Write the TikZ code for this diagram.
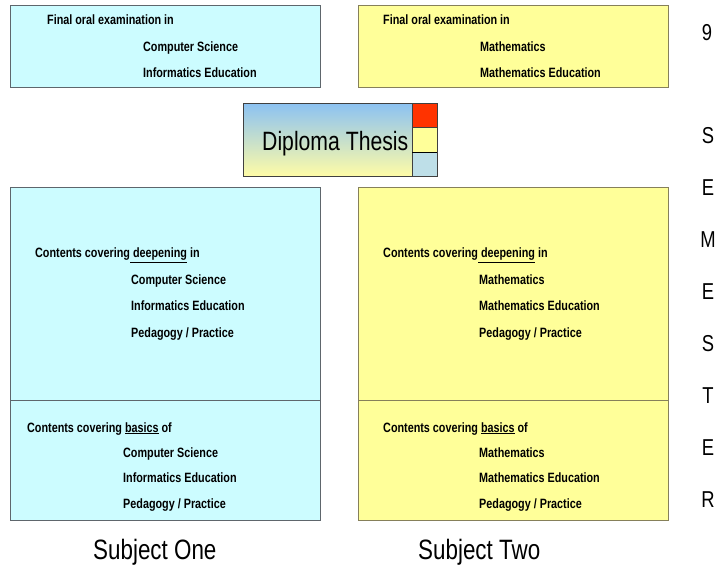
\documentclass[tikz,border=0pt]{standalone}
\usepackage{fontspec}
\setmainfont[FakeStretch=0.8]{Liberation Sans}
\definecolor{paleblue}{HTML}{CCFCFF}
\definecolor{paleyellow}{HTML}{FFFF99}
\definecolor{bluegray}{HTML}{5E666C}
\definecolor{olivegray}{HTML}{86805A}
\definecolor{thesisred}{HTML}{FF3300}
\definecolor{thesisblue}{HTML}{BEDFE8}
\definecolor{skytop}{HTML}{8CC2F2}
\definecolor{sandbottom}{HTML}{FFFCA6}
\begin{document}
\begin{tikzpicture}[x=1pt,y=-1pt,line join=miter,
  bluebox/.style={draw=bluegray,fill=paleblue,line width=0.9pt,anchor=north west,inner sep=0pt,minimum width=310pt},
  yellowbox/.style={draw=olivegray,fill=paleyellow,line width=0.9pt,anchor=north west,inner sep=0pt,minimum width=310pt},
  txt/.style={anchor=base west,inner sep=0pt,font=\fontsize{13.5}{16}\selectfont\bfseries},
  big/.style={anchor=base west,inner sep=0pt,font=\fontsize{28}{32}\selectfont},
  letter/.style={anchor=base,inner sep=0pt,font=\fontsize{23}{26}\selectfont}]
\useasboundingbox (0,0) rectangle (720,577);
% top: final oral examination
\node[bluebox,minimum height=82pt] (examL) at (10,5) {};\node[yellowbox,minimum height=82pt] (examR) at (358,5) {};
\node[txt] (examLa) at (47,25) {Final oral examination in};\node[txt] (examLb) at (143,51.5) {Computer Science};\node[txt] (examLc) at (143,78) {Informatics Education};
\node[txt] (examRa) at (383,25) {Final oral examination in};\node[txt] (examRb) at (480,51.5) {Mathematics};\node[txt] (examRc) at (480,78) {Mathematics Education};
% diploma thesis
\node[draw=black!75,line width=0.8pt,top color=skytop,bottom color=sandbottom,anchor=north west,inner sep=0pt,minimum width=169pt,minimum height=73pt] (thesis) at (243,103) {};
\node[big,font=\fontsize{26.5}{30}\selectfont] (thesislbl) at (262,151) {Diploma Thesis};
\node[draw=black!75,fill=thesisred,anchor=north west,inner sep=0pt,minimum width=25pt,minimum height=24pt] (sqred) at (412,103) {};
\node[draw=black!75,fill=paleyellow,anchor=north west,inner sep=0pt,minimum width=25pt,minimum height=25pt] (sqyel) at (412,127) {};
\node[draw=black!75,fill=thesisblue,anchor=north west,inner sep=0pt,minimum width=25pt,minimum height=24pt] (sqblue) at (412,152) {};
\draw[line width=1.4pt] (sqyel.south west) -- (sqyel.south east);
% subject one
\node[bluebox,minimum height=213pt] (deepL) at (10,187) {};\node[bluebox,minimum height=120pt] (basicL) at (10,400) {};
\node[txt] (deepLa) at (35,258) {Contents covering\underline{\ deepening} in};
\node[txt] (deepLb) at (131,285) {Computer Science};\node[txt] (deepLc) at (131,311) {Informatics Education};\node[txt] (deepLd) at (131,337) {Pedagogy / Practice};
\node[txt] (basicLa) at (27,432) {Contents covering \underline{basics} of};
\node[txt] (basicLb) at (123,457) {Computer Science};\node[txt] (basicLc) at (123,482) {Informatics Education};\node[txt] (basicLd) at (123,508) {Pedagogy / Practice};
% subject two
\node[yellowbox,minimum height=213pt] (deepR) at (358,187) {};\node[yellowbox,minimum height=120pt] (basicR) at (358,400) {};
\node[txt] (deepRa) at (383,258) {Contents covering\underline{\ deepening} in};
\node[txt] (deepRb) at (479,285) {Mathematics};\node[txt] (deepRc) at (479,311) {Mathematics Education};\node[txt] (deepRd) at (479,337) {Pedagogy / Practice};
\node[txt] (basicRa) at (383,432) {Contents covering \underline{basics} of};
\node[txt] (basicRb) at (479,457) {Mathematics};\node[txt] (basicRc) at (479,482) {Mathematics Education};\node[txt] (basicRd) at (479,508) {Pedagogy / Practice};
% captions
\node[big] (subjone) at (93,559) {Subject One};\node[big] (subjtwo) at (418,559) {Subject Two};
\node[letter] (semnum) at (707,40.5) {9};
\foreach \l [count=\i] in {S,E,M,E,S,T,E,R}{\node[letter] (sem\i) at (708,{143.5+(\i-1)*52}) {\l};}
\end{tikzpicture}
\end{document}
